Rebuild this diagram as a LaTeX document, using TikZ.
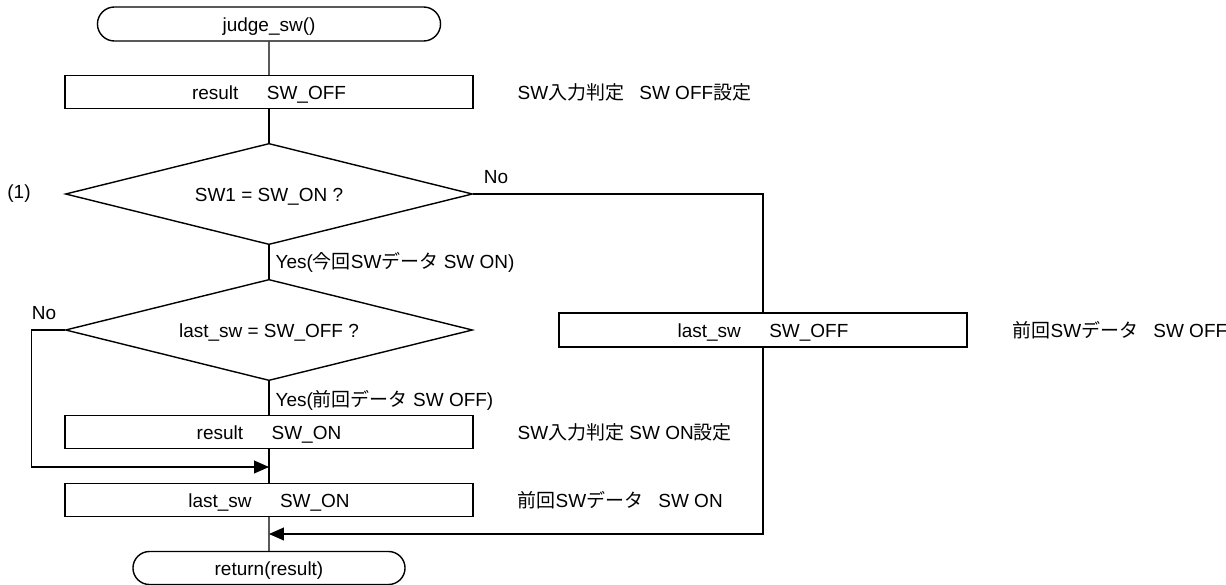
\documentclass[tikz,border=0pt]{standalone}
\usepackage{fontspec}
\setmainfont{Liberation Sans}
\newfontfamily\jpfont{Noto Sans CJK JP}
\newcommand{\jp}[1]{{\jpfont #1}}
\usetikzlibrary{shapes.geometric,shapes.misc,arrows.meta}

\tikzset{
  term/.style={draw, rounded rectangle, minimum width=8.575cm, minimum height=0.85cm,
    inner sep=0pt, text height=11pt, text depth=1pt},
  proc/.style={draw, rectangle, minimum width=10.2cm, minimum height=0.825cm,
    inner sep=0pt, text height=11pt, text depth=1pt},
  decide/.style={draw, diamond, aspect=4, minimum width=10.175cm, minimum height=2.53cm,
    inner sep=0pt, text height=11pt, text depth=1pt},
  note/.style={anchor=west, inner sep=0pt},
  arr/.style={-{Triangle[length=10.5pt,width=9pt]}}
}

\begin{document}
\begin{tikzpicture}[x=0.025cm, y=-0.025cm, line width=1pt,
    font=\fontsize{13.5}{16}\selectfont]
  \useasboundingbox (0,0) rectangle (1226,585);

  % main column
  \node[term] (start) at (269,24) {judge\_sw()};
  \node[proc] (setoff) at (269,92) {result\hspace{1.5em}SW\_OFF};
  \node[decide] (chksw) at (269,194) {SW1 = SW\_ON ?};
  \node[decide] (chklast) at (269,330) {last\_sw = SW\_OFF ?};
  \node[proc] (seton) at (269,432) {result\hspace{1.5em}SW\_ON};
  \node[proc] (saveon) at (269,500) {last\_sw\hspace{1.5em}SW\_ON};
  \node[term, minimum width=6.8cm, minimum height=0.825cm] (stop) at (269,568) {return(result)};

  % right branch
  \node[proc, minimum height=0.85cm] (saveoff) at (763,330) {last\_sw\hspace{1.5em}SW\_OFF};

  % comments
  \node[note] (n1) at (517,92) {SW\jp{入力判定}\hspace{0.8em}SW OFF\jp{設定}};
  \node[note] (n2) at (517,432) {SW\jp{入力判定} SW ON\jp{設定}};
  \node[note] (n3) at (517,500) {\jp{前回}SW\jp{データ}\hspace{0.8em}SW ON};
  \node[note] (n4) at (1012,330) {\jp{前回}SW\jp{データ}\hspace{0.8em}SW OFF};
  \node (lbl1) at (19,194) {(1)};

  % branch labels
  \node[note] (yes1) at (275,262) {Yes(\jp{今回}SW\jp{データ} SW ON)};
  \node[note] (yes2) at (275,400) {Yes(\jp{前回データ} SW OFF)};
  \node (no1) at (496,177) {No};
  \node (no2) at (44,313) {No};

  \coordinate (m1) at (269,467);
  \coordinate (m2) at (269,534);

  \draw (start) -- (setoff);
  \draw (setoff) -- (chksw);
  \draw (chksw) -- (chklast);
  \draw (chklast) -- (seton);
  \draw (seton) -- (saveon);
  \draw (saveon) -- (stop);
  \draw (chksw.east) -| (saveoff.north);
  \draw[arr] (saveoff.south) |- (m2);
  \draw[arr] (chklast.west) -- ++(-33,0) |- (m1);
\end{tikzpicture}
\end{document}
